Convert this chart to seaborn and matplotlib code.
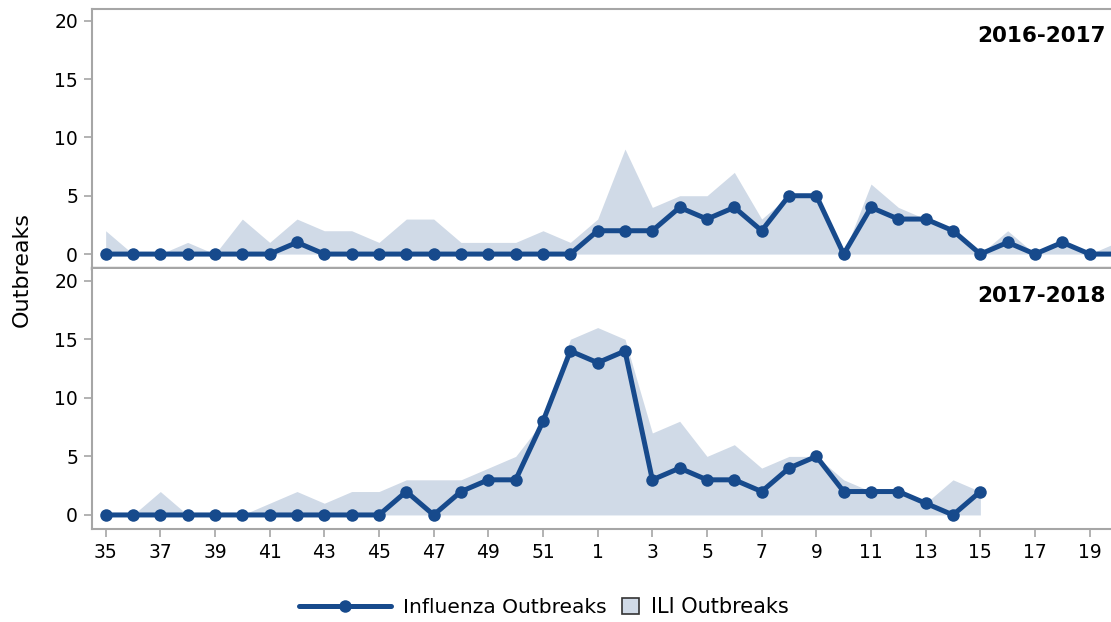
import matplotlib
matplotlib.use("Agg")
import matplotlib.pyplot as plt
from matplotlib.lines import Line2D
from matplotlib.patches import Patch
import seaborn as sns
import numpy as np
import pandas as pd

# Surveillance weeks, 35..52 then 1..20
weeks = list(range(35, 53)) + list(range(1, 21))

# 2016-2017 season
flu_1617 = [0, 0, 0, 0, 0, 0, 0, 1, 0, 0, 0, 0, 0, 0, 0, 0, 0, 0,
            2, 2, 2, 4, 3, 4, 2, 5, 5, 0, 4, 3, 3, 2, 0, 1, 0, 1, 0, 0]
ili_1617 = [2, 0, 0, 1, 0, 3, 1, 3, 2, 2, 1, 3, 3, 1, 1, 1, 2, 1,
            3, 9, 4, 5, 5, 7, 3, 5, 5, 0, 6, 4, 3, 2, 0, 2, 0, 1, 0, 1]

# 2017-2018 season (data up to week 15)
flu_1718 = [0, 0, 0, 0, 0, 0, 0, 0, 0, 0, 0, 2, 0, 2, 3, 3, 8, 14,
            13, 14, 3, 4, 3, 3, 2, 4, 5, 2, 2, 2, 1, 0, 2]
ili_1718 = [0, 0, 2, 0, 0, 0, 1, 2, 1, 2, 2, 3, 3, 3, 4, 5, 8, 15,
            16, 15, 7, 8, 5, 6, 4, 5, 5, 3, 2, 2, 1, 3, 2]

seasons = ["2016-2017", "2017-2018"]
tick_labels = [str(w) for w in weeks[::2]]

LINE = "#174a8c"
FILL = "#d0dae7"
GREY = "#a6a6a6"

sns.set_style("white")
plt.rcParams["font.family"] = ["DejaVu Sans"]
plt.rcParams["text.color"] = "black"
plt.rcParams["xtick.color"] = "black"
plt.rcParams["ytick.color"] = "black"

fig = plt.figure(figsize=(11.11, 6.22), dpi=100)
ax_top = fig.add_axes([0.0828, 0.569, 0.93, 0.4165])
ax_bot = fig.add_axes([0.0828, 0.1495, 0.93, 0.418])

title_y = [0.942, 0.524]
for ax, season, flu, ili, ty in [(ax_top, seasons[0], flu_1617, ili_1617, title_y[0]),
                                 (ax_bot, seasons[1], flu_1718, ili_1718, title_y[1])]:
    df = pd.DataFrame({"idx": np.arange(len(flu)), "flu": flu, "ili": ili})
    ax.fill_between(df["idx"], 0, df["ili"], color=FILL, linewidth=0, zorder=1)
    sns.lineplot(data=df, x="idx", y="flu", ax=ax, color=LINE, linewidth=3.6,
                 marker="o", markersize=9, markeredgewidth=0, zorder=3)
    ax.set_xlim(-0.5, 37.3)
    ax.set_ylim(-1.2, 21)
    ax.set_yticks([0, 5, 10, 15, 20])
    ax.set_xlabel("")
    ax.set_ylabel("")
    fig.text(0.995, ty, season, ha="right", va="center",
             fontsize=15.5, fontweight="bold")
    ax.tick_params(axis="y", left=True, length=6, width=1.2, color=GREY,
                   labelcolor="black", labelsize=13.5, pad=4)
    for s in ax.spines.values():
        s.set_color(GREY)
        s.set_linewidth(1.5)
    ax.spines["right"].set_visible(False)

ax_top.set_xticks([])
ax_top.spines["bottom"].set_linewidth(2.5)
ax_bot.spines["top"].set_visible(False)
ax_bot.set_xticks(np.arange(0, len(weeks), 2))
ax_bot.set_xticklabels(tick_labels)
ax_bot.tick_params(axis="x", bottom=True, length=6, width=1.2, color=GREY,
                   labelcolor="black", labelsize=13.5, pad=4)

fig.text(0.02, 0.566, "Outbreaks", rotation=90, ha="center", va="center",
         fontsize=16)

# legend: two parts so the ILI patch can be a small square
line_handle = Line2D([0], [0], color=LINE, linewidth=3.6, marker="o",
                     markersize=9, markeredgewidth=0)
fig.legend([line_handle], ["Influenza Outbreaks"], loc="center right",
           bbox_to_anchor=(0.5464, 0.024), frameon=False, fontsize=14.5,
           handlelength=4.6, handletextpad=0.6, borderpad=0,
           borderaxespad=0)
patch_handle = Patch(facecolor=FILL, edgecolor="#333333", linewidth=1.2)
fig.legend([patch_handle], ["ILI Outbreaks"], loc="center left",
           bbox_to_anchor=(0.56, 0.024), frameon=False, fontsize=15,
           handlelength=0.8, handleheight=0.8, handletextpad=0.6,
           borderpad=0, borderaxespad=0)

fig.savefig("out.png", dpi=100)
